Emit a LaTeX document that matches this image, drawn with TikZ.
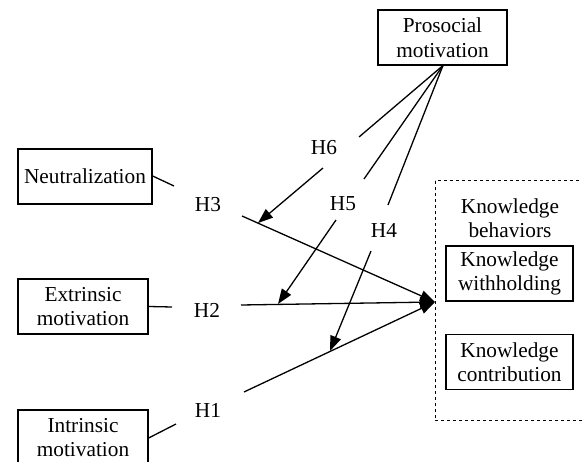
\documentclass[tikz,border=0pt]{standalone}
\usepackage{fontspec}
\setmainfont{Liberation Serif}
\usetikzlibrary{arrows.meta}
\begin{document}
\begin{tikzpicture}[x=1pt,y=-1pt,
  every node/.style={font=\fontsize{21.3}{24.5}\selectfont, align=center, inner sep=0pt},
  box/.style={draw, line width=1.3pt, minimum height=55pt},
  lbl/.style={},
  conn/.style={line width=1.3pt},
  arr/.style={line width=1.3pt, -{Triangle[length=15pt,width=11pt]}}
]
\useasboundingbox (0,0) rectangle (582,462);
\clip (0,0) rectangle (582,462);
% boxes
\node[box, minimum width=134pt] (neut) at (85,176.5) {Neutralization};
\node[box, minimum width=130pt] (ext) at (83,306.5) {Extrinsic\\motivation};
\node[box, minimum width=130pt] (intr) at (83,437.5) {Intrinsic\\motivation};
\node[box, minimum width=129pt] (pro) at (442.5,37.5) {Prosocial\\motivation};
\node[box, minimum width=127pt] (wh) at (509.5,273.5) {Knowledge\\withholding};
\node[box, minimum width=127pt] (con) at (509.5,362) {Knowledge\\contribution};
\draw[dashed, line width=1pt] (435,181) rectangle (600,421);
\node (kb) at (510,218) {Knowledge\\behaviors};
% labels
\node[lbl] (h3) at (208,205) {H3};
\node[lbl] (h2) at (207,310) {H2};
\node[lbl] (h1) at (208,410) {H1};
\node[lbl] (h6) at (324,148) {H6};
\node[lbl] (h5) at (343,204) {H5};
\node[lbl] (h4) at (384,230) {H4};
% coordinates
\coordinate (n1) at (174,186);
\coordinate (e1) at (172,307);
\coordinate (i1) at (176,424);
\coordinate (h3s) at (242,216);
\coordinate (h2s) at (241,305);
\coordinate (h1s) at (244,392);
\coordinate (tip) at (435,302);
\coordinate (pb) at (443,65.5);
\coordinate (p6) at (359,137);
\coordinate (p5) at (364,179);
\coordinate (p4) at (388,205);
\coordinate (a6s) at (323,168);
\coordinate (a6t) at (258,223);
\coordinate (a5s) at (336,220);
\coordinate (a5t) at (278,304);
\coordinate (a4s) at (371,251);
\coordinate (a4t) at (330,351);
% connectors
\draw[conn] (neut.east |- 0,176) -- (n1);
\draw[conn] (ext.east) -- (e1);
\draw[conn] (intr.east |- 0,438) -- (i1);
\draw[arr] (h3s) -- (tip);
\draw[arr] (h2s) -- (tip);
\draw[arr] (h1s) -- (tip);
\draw[conn] (pb) -- (p6);
\draw[conn] (pb) -- (p5);
\draw[conn] (pb) -- (p4);
\draw[arr] (a6s) -- (a6t);
\draw[arr] (a5s) -- (a5t);
\draw[arr] (a4s) -- (a4t);
\end{tikzpicture}
\end{document}
